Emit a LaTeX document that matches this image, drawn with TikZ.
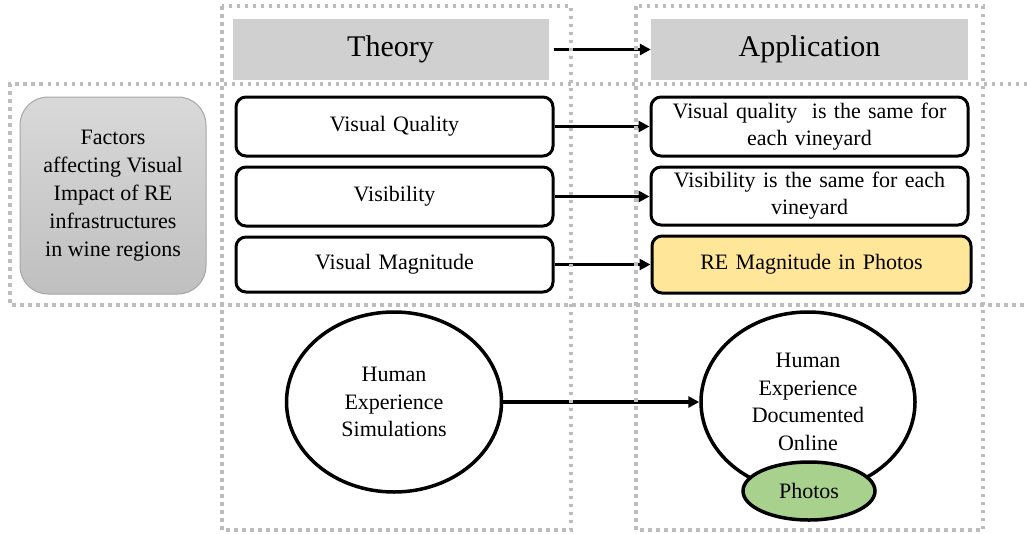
\documentclass[tikz,border=0pt]{standalone}
\usepackage{fontspec}
\setmainfont{Liberation Serif}
\usetikzlibrary{arrows.meta,shapes.geometric}
\definecolor{headgray}{HTML}{D0D0D0}
\definecolor{dotgray}{HTML}{BDBDBD}
\definecolor{magyellow}{HTML}{FFE699}
\definecolor{photogreen}{HTML}{A9D18E}
\tikzset{
  header/.style={fill=headgray, minimum width=316pt, minimum height=61pt, inner sep=0pt,
    font=\fontsize{30}{36}\selectfont},
  factorbox/.style={draw=black, line width=3pt, rounded corners=10pt, fill=white,
    minimum width=317pt, inner sep=2pt, align=center, text width=300pt,
    font=\fontsize{22}{27}\selectfont},
  bubble/.style={ellipse, draw=black, line width=3.5pt, fill=white, inner sep=0pt,
    align=center, font=\fontsize{22}{27.5}\selectfont},
  flow/.style={line width=3.2pt, -{Triangle[length=11pt,width=11pt]}},
  zone/.style={draw=dotgray, line width=3.5pt, dash pattern=on 3.5pt off 4.5pt},
}
\begin{document}
\begin{tikzpicture}[x=1pt,y=-1pt]
\useasboundingbox (0,0) rectangle (1027,533);

% column headers
\node[header] (theory) at (390.5,49.5) {Theory};
\node[header, minimum width=317pt] (application) at (809.5,49.5) {Application};

% grouping label on the left
\node[draw=gray!70, line width=1pt, rounded corners=28pt,
      top color=gray!30, bottom color=gray!50,
      minimum width=186pt, minimum height=197pt, inner sep=0pt,
      align=center, font=\fontsize{22}{28}\selectfont] (factors) at (113,195.5)
      {Factors\\affecting Visual\\Impact of RE\\infrastructures\\in wine regions};

% theory factors
\node[factorbox, minimum height=59pt] (vq) at (394.5,126.5) {Visual Quality};
\node[factorbox, minimum height=59pt] (vis) at (394.5,196.5) {Visibility};
\node[factorbox, minimum height=55pt] (vm) at (394.5,264.5) {Visual Magnitude};

% application counterparts
\node[factorbox, minimum height=59pt] (vqa) at (809.5,126.5)
  {Visual quality\ \ is the same for\\each vineyard};
\node[factorbox, minimum height=58pt] (visa) at (809.5,196) 
  {Visibility is the same for each\\vineyard};
\node[factorbox, fill=magyellow, minimum width=319pt, minimum height=57pt] (vma) at (811.5,264.5)
  {RE Magnitude in Photos};

% human experience
\node[bubble, minimum width=215pt, minimum height=180pt] (sim) at (394,402)
  {Human\\Experience\\Simulations};
\node[bubble, minimum width=214pt, minimum height=180pt] (online) at (808,402)
  {Human\\Experience\\Documented\\Online};
\node[bubble, fill=photogreen, minimum width=132pt, minimum height=58pt,
      font=\fontsize{22}{26}\selectfont] (photos) at (809,491) {Photos};

% connectors
\draw[flow, shorten <=5pt] (theory.east) -- (application.west);
\draw[flow] (vq.east) -- (vqa.west);
\draw[flow] (vis.east) -- (visa.west |- vis.east);
\draw[flow] (vm.east) -- (vma.west);
\draw[flow] (sim.east) -- (online.west);

% dotted zones
\draw[zone] (222,6) rectangle (571,530);
\draw[zone] (636,6) rectangle (983,530);
\draw[zone] (1027,84) -- (10,84) -- (10,305) -- (1027,305);
\end{tikzpicture}
\end{document}
